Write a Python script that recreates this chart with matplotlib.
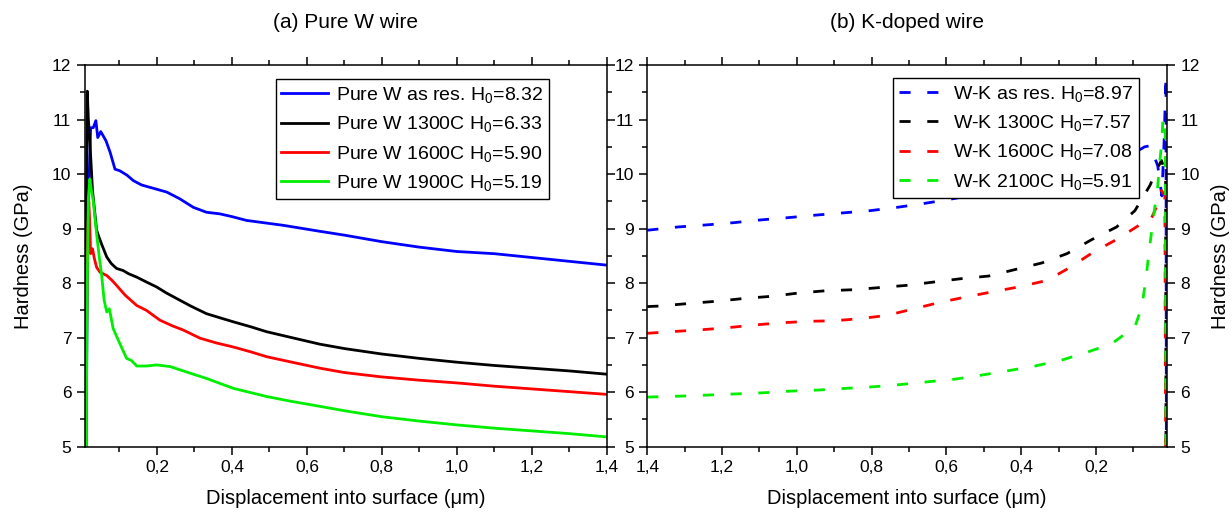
import matplotlib
matplotlib.use('Agg')
import matplotlib.pyplot as plt
from matplotlib.ticker import MultipleLocator, FuncFormatter

# ---- (a) pure W wire ----
pw_asres_x = [0.011, 0.015, 0.023, 0.030, 0.037, 0.042, 0.050, 0.064, 0.075, 0.088, 0.101, 0.12, 0.137,
              0.159, 0.19, 0.226, 0.26, 0.297, 0.332, 0.368, 0.40, 0.439, 0.537, 0.635, 0.70, 0.80,
              0.90, 1.00, 1.10, 1.20, 1.30, 1.40]
pw_asres_y = [5.0, 9.0, 10.85, 10.85, 10.98, 10.67, 10.78, 10.61, 10.4, 10.09, 10.06, 9.98, 9.88,
              9.80, 9.74, 9.67, 9.55, 9.39, 9.30, 9.27, 9.22, 9.15, 9.06, 8.95, 8.88, 8.76,
              8.66, 8.58, 8.54, 8.47, 8.40, 8.33]

pw_1300_x = [0.009, 0.012, 0.014, 0.017, 0.021, 0.028, 0.039, 0.045, 0.052, 0.066, 0.078, 0.092, 0.11,
             0.125, 0.146, 0.172, 0.199, 0.225, 0.252, 0.29, 0.332, 0.37, 0.404, 0.45, 0.492, 0.56,
             0.635, 0.70, 0.80, 0.90, 1.00, 1.10, 1.20, 1.30, 1.40]
pw_1300_y = [5.0, 9.5, 11.52, 11.0, 10.6, 9.7, 8.97, 8.85, 8.72, 8.48, 8.36, 8.27, 8.23,
             8.17, 8.11, 8.02, 7.93, 7.82, 7.72, 7.58, 7.44, 7.36, 7.29, 7.20, 7.11, 7.00,
             6.88, 6.80, 6.70, 6.62, 6.55, 6.49, 6.44, 6.39, 6.33]

pw_1600_x = [0.010, 0.014, 0.018, 0.020, 0.023, 0.028, 0.033, 0.039, 0.048, 0.066, 0.08, 0.092, 0.115,
             0.146, 0.172, 0.208, 0.24, 0.27, 0.315, 0.36, 0.403, 0.45, 0.493, 0.56, 0.635, 0.70,
             0.80, 0.90, 1.00, 1.10, 1.20, 1.30, 1.40]
pw_1600_y = [5.0, 8.5, 9.5, 9.21, 8.54, 8.63, 8.45, 8.29, 8.20, 8.14, 8.05, 7.96, 7.78,
             7.59, 7.50, 7.32, 7.22, 7.14, 6.99, 6.90, 6.83, 6.74, 6.65, 6.55, 6.44, 6.36,
             6.28, 6.22, 6.17, 6.11, 6.06, 6.01, 5.96]

pw_1900_x = [0.011, 0.014, 0.017, 0.021, 0.025, 0.030, 0.039, 0.046, 0.052, 0.059, 0.066, 0.073, 0.083,
             0.101, 0.119, 0.132, 0.146, 0.172, 0.199, 0.235, 0.279, 0.333, 0.404, 0.493, 0.56,
             0.635, 0.70, 0.80, 0.90, 1.00, 1.10, 1.20, 1.30, 1.40]
pw_1900_y = [5.0, 8.0, 9.57, 9.91, 9.7, 9.51, 8.90, 8.48, 8.17, 7.69, 7.47, 7.53, 7.17,
             6.89, 6.62, 6.58, 6.48, 6.48, 6.50, 6.47, 6.37, 6.25, 6.07, 5.92, 5.83,
             5.74, 5.66, 5.55, 5.47, 5.40, 5.34, 5.29, 5.24, 5.18]

# ---- (b) K-doped wire ----
wk_asres_x = [1.40, 1.318, 1.238, 1.167, 1.096, 1.025, 0.945, 0.874, 0.803, 0.732, 0.661, 0.589,
              0.50, 0.40, 0.30, 0.20, 0.12, 0.07, 0.055, 0.035, 0.024, 0.018, 0.013, 0.012]
wk_asres_y = [8.97, 9.03, 9.07, 9.11, 9.16, 9.20, 9.25, 9.29, 9.33, 9.39, 9.46, 9.54,
              9.65, 9.80, 9.95, 10.1, 10.3, 10.5, 10.52, 10.15, 9.6, 10.6, 11.8, 5.0]

wk_1300_x = [1.40, 1.367, 1.283, 1.211, 1.14, 1.065, 0.994, 0.923, 0.847, 0.776, 0.705, 0.634, 0.563,
             0.487, 0.416, 0.345, 0.278, 0.211, 0.145, 0.096, 0.056, 0.035, 0.025, 0.014, 0.013]
wk_1300_y = [7.57, 7.58, 7.63, 7.67, 7.72, 7.76, 7.82, 7.86, 7.88, 7.92, 7.96, 8.02, 8.08,
             8.13, 8.25, 8.37, 8.54, 8.80, 9.03, 9.33, 9.79, 10.12, 10.25, 10.0, 5.0]

wk_1600_x = [1.40, 1.336, 1.265, 1.189, 1.118, 1.047, 0.971, 0.90, 0.829, 0.758, 0.687, 0.616, 0.545,
             0.478, 0.407, 0.331, 0.269, 0.207, 0.145, 0.083, 0.06, 0.05, 0.035, 0.025, 0.016, 0.014]
wk_1600_y = [7.08, 7.11, 7.14, 7.18, 7.23, 7.27, 7.30, 7.31, 7.35, 7.41, 7.53, 7.65, 7.75,
             7.84, 7.93, 8.05, 8.29, 8.57, 8.80, 9.07, 9.10, 9.22, 9.45, 9.70, 9.6, 5.0]

wk_2100_x = [1.40, 1.30, 1.229, 1.158, 1.087, 1.016, 0.941, 0.87, 0.794, 0.723, 0.651, 0.576, 0.509,
             0.438, 0.363, 0.291, 0.221, 0.158, 0.096, 0.078, 0.067, 0.06, 0.051, 0.043, 0.036,
             0.03, 0.024, 0.021, 0.015, 0.013]
wk_2100_y = [5.91, 5.93, 5.95, 5.97, 5.99, 6.02, 6.04, 6.07, 6.10, 6.14, 6.19, 6.24, 6.31,
             6.39, 6.48, 6.59, 6.74, 6.89, 7.20, 7.56, 8.05, 8.48, 8.97, 9.39, 9.70,
             10.2, 10.6, 11.05, 10.8, 5.0]

pw_labels = ['Pure W as res. H$_0$=8.32', 'Pure W 1300C H$_0$=6.33',
             'Pure W 1600C H$_0$=5.90', 'Pure W 1900C H$_0$=5.19']
wk_labels = ['W-K as res. H$_0$=8.97', 'W-K 1300C H$_0$=7.57',
             'W-K 1600C H$_0$=7.08', 'W-K 2100C H$_0$=5.91']
colors = ['#0000ff', '#000000', '#ff0000', '#00ee00']


def comma_fmt(v, pos):
    return f'{v:.1f}'.replace('.', ',')


def style_axis(ax):
    ax.xaxis.set_major_locator(MultipleLocator(0.2))
    ax.xaxis.set_minor_locator(MultipleLocator(0.1))
    ax.yaxis.set_major_locator(MultipleLocator(1))
    ax.yaxis.set_minor_locator(MultipleLocator(0.5))
    ax.xaxis.set_major_formatter(FuncFormatter(comma_fmt))
    ax.tick_params(which='both', direction='out', top=True, right=True, width=1.1, labelsize=12.5)
    ax.tick_params(which='major', length=6)
    ax.tick_params(which='minor', length=3.5)
    for s in ax.spines.values():
        s.set_linewidth(1.1)
    ax.set_ylim(5, 12)


def main():
    plt.rcParams['font.family'] = ['Liberation Sans', 'DejaVu Sans']
    plt.rcParams['mathtext.default'] = 'regular'

    fig = plt.figure(figsize=(12.32, 5.14), dpi=100)
    ax1 = fig.add_axes([0.0686, 0.1309, 0.4239, 0.7426])
    ax2 = fig.add_axes([0.5254, 0.1309, 0.4218, 0.7426])

    # (a)
    for xs, ys, c, lab in zip([pw_asres_x, pw_1300_x, pw_1600_x, pw_1900_x],
                              [pw_asres_y, pw_1300_y, pw_1600_y, pw_1900_y],
                              colors, pw_labels):
        ax1.plot(xs, ys, color=c, lw=2, label=lab)
    style_axis(ax1)
    ax1.set_xlim(0.0067, 1.4)
    ax1.set_xlabel('Displacement into surface (\u03bcm)', fontsize=14.5, labelpad=10)
    ax1.set_ylabel('Hardness (GPa)', fontsize=14.5, labelpad=14)
    ax1.set_title('(a) Pure W wire', fontsize=15, pad=27)
    leg1 = ax1.legend(loc='upper right', bbox_to_anchor=(0.889, 0.963), borderaxespad=0,
                      fontsize=14, fancybox=False, edgecolor='black', framealpha=1,
                      handlelength=2.4, handletextpad=0.4, labelspacing=0.48, borderpad=0.3)
    leg1.get_frame().set_linewidth(1.0)

    # (b)
    for xs, ys, c, lab in zip([wk_asres_x, wk_1300_x, wk_1600_x, wk_2100_x],
                              [wk_asres_y, wk_1300_y, wk_1600_y, wk_2100_y],
                              colors, wk_labels):
        ax2.plot(xs, ys, color=c, lw=2, linestyle=(0, (4, 6)), label=lab)
    style_axis(ax2)
    ax2.set_xlim(1.4, 0.0104)
    ax2.tick_params(axis='y', labelleft=True, labelright=True)
    ax2.yaxis.set_label_position('right')
    ax2.set_xlabel('Displacement into surface (\u03bcm)', fontsize=14.5, labelpad=10)
    ax2.set_ylabel('Hardness (GPa)', fontsize=14.5, labelpad=8)
    ax2.set_title('(b) K-doped wire', fontsize=15, pad=27)
    leg2 = ax2.legend(loc='upper right', bbox_to_anchor=(0.946, 0.966), borderaxespad=0,
                      fontsize=14, fancybox=False, edgecolor='black', framealpha=1,
                      handlelength=2.4, handletextpad=0.4, labelspacing=0.48, borderpad=0.3)
    leg2.get_frame().set_linewidth(1.0)

    plt.savefig('out.png', dpi=100)


if __name__ == "__main__":
    main()
